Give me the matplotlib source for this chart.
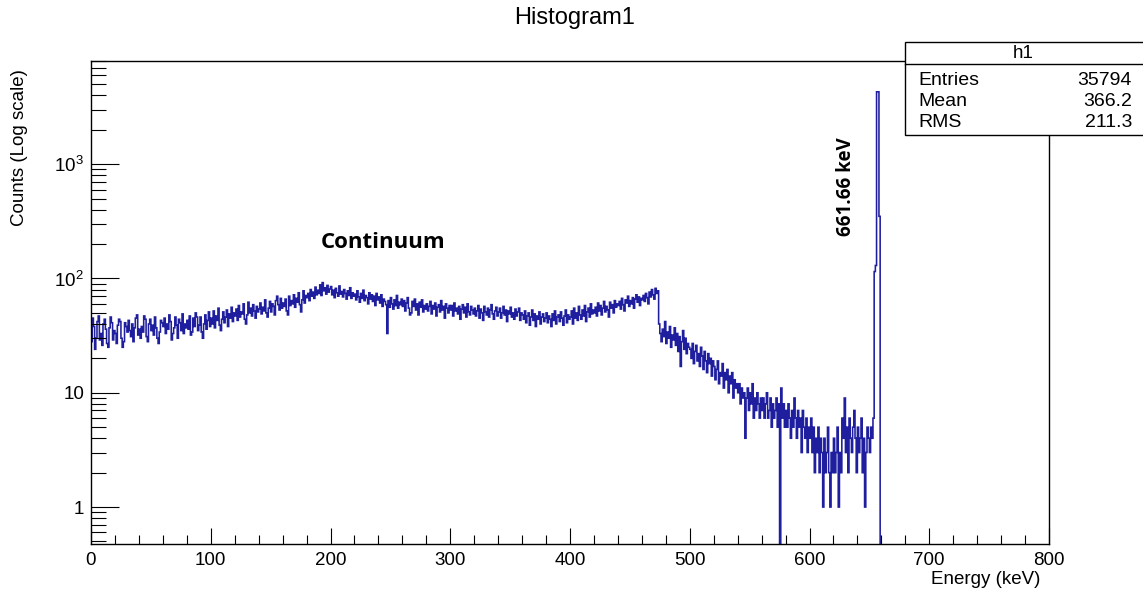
import numpy as np
import matplotlib
matplotlib.use("Agg")
import matplotlib.pyplot as plt
from matplotlib.ticker import MultipleLocator, LogLocator, FixedLocator, NullFormatter
from matplotlib.patches import Rectangle
from matplotlib.lines import Line2D

plt.rcParams['font.family'] = ['Liberation Sans', 'DejaVu Sans']
plt.rcParams['mathtext.fontset'] = 'custom'
plt.rcParams['mathtext.rm'] = 'Liberation Sans'
plt.rcParams['mathtext.it'] = 'Liberation Sans'

# histogram contents, 1 keV bins starting at 0 keV (one row = 20 keV)
bin_width = 1
counts_0_100 = [28, 45, 38, 24, 30, 42, 47, 29, 33, 26, 40, 44, 36, 27, 25, 37, 46, 41, 29, 35,
                33, 27, 39, 44, 42, 30, 25, 28, 41, 38, 34, 43, 35, 31, 40, 28, 37, 45, 48, 32,
                36, 30, 38, 34, 47, 44, 31, 28, 40, 44, 35, 39, 32, 46, 37, 30, 27, 34, 43, 41,
                38, 45, 33, 40, 36, 48, 42, 29, 33, 37, 46, 39, 30, 44, 41, 35, 49, 33, 40, 37,
                43, 36, 47, 32, 34, 45, 38, 50, 46, 35, 39, 46, 34, 30, 40, 48, 36, 43, 51, 38]
counts_100_200 = [45, 40, 52, 37, 47, 43, 55, 39, 35, 44, 51, 41, 46, 53, 38, 49, 45, 56, 42, 50,
                  47, 54, 43, 58, 46, 51, 49, 60, 44, 40, 48, 62, 50, 55, 47, 59, 52, 45, 57, 51,
                  54, 61, 49, 56, 52, 65, 50, 46, 55, 63, 51, 60, 57, 48, 64, 70, 59, 53, 67, 55,
                  61, 57, 66, 52, 48, 70, 58, 64, 60, 72, 56, 67, 62, 75, 59, 51, 65, 78, 61, 71,
                  68, 74, 64, 80, 70, 76, 67, 84, 72, 79, 74, 88, 71, 92, 78, 83, 73, 87, 76, 81]
counts_200_300 = [85, 72, 79, 68, 82, 75, 70, 86, 73, 77, 69, 80, 74, 66, 78, 71, 83, 67, 75, 70,
                  73, 65, 78, 69, 62, 74, 67, 79, 64, 71, 68, 60, 75, 66, 72, 63, 70, 58, 74, 65,
                  69, 61, 72, 57, 66, 63, 59, 33, 64, 56, 68, 60, 54, 65, 58, 71, 55, 62, 59, 66,
                  57, 64, 52, 61, 68, 55, 48, 50, 63, 57, 66, 53, 60, 48, 62, 56, 65, 51, 58, 54,
                  60, 52, 57, 63, 49, 58, 54, 61, 47, 56, 59, 51, 64, 53, 57, 45, 60, 55, 50, 58]
counts_300_400 = [53, 58, 47, 61, 52, 55, 49, 57, 44, 54, 59, 50, 56, 46, 60, 51, 48, 57, 53, 49,
                  55, 47, 52, 58, 45, 54, 50, 43, 57, 51, 48, 55, 46, 53, 59, 49, 44, 52, 56, 47,
                  51, 55, 45, 50, 57, 48, 53, 42, 52, 49, 56, 46, 50, 44, 54, 47, 51, 55, 43, 50,
                  48, 44, 52, 41, 47, 50, 39, 46, 53, 43, 49, 38, 47, 44, 51, 40, 46, 49, 42, 45,
                  50, 41, 47, 44, 38, 49, 43, 52, 40, 46, 48, 42, 51, 45, 39, 47, 53, 41, 48, 44]
counts_400_500 = [46, 52, 40, 55, 45, 50, 43, 57, 48, 44, 53, 47, 58, 42, 51, 55, 46, 60, 49, 53,
                  50, 56, 47, 61, 52, 58, 48, 55, 63, 51, 57, 53, 46, 62, 55, 59, 50, 64, 56, 60,
                  58, 63, 54, 67, 59, 52, 65, 61, 70, 57, 64, 60, 68, 55, 66, 72, 62, 69, 58, 67,
                  65, 71, 63, 74, 68, 60, 76, 69, 80, 72, 66, 82, 74, 78, 40, 33, 28, 36, 31, 42,
                  27, 34, 30, 38, 25, 32, 29, 37, 26, 33, 23, 31, 17, 28, 35, 24, 30, 22, 27, 25]
counts_500_600 = [24, 20, 27, 18, 23, 26, 19, 22, 17, 25, 21, 16, 23, 19, 15, 22, 18, 20, 14, 19,
                  17, 13, 16, 19, 12, 15, 14, 18, 11, 15, 13, 16, 10, 14, 12, 15, 9, 13, 11, 12,
                  10, 12, 8, 11, 9, 10, 4, 9, 11, 7, 10, 8, 12, 6, 9, 7, 10, 8, 6, 9,
                  7, 9, 6, 8, 10, 6, 7, 9, 5, 8, 6, 7, 9, 5, 8, 0, 11, 6, 8, 5,
                  7, 5, 8, 6, 4, 7, 5, 9, 6, 4, 7, 5, 6, 3, 7, 5, 4, 6, 3, 5]
counts_600_660 = [4, 6, 3, 5, 2, 4, 3, 5, 2, 4, 3, 1, 4, 2, 3, 5, 2, 1, 3, 2,
                  4, 2, 3, 5, 1, 3, 2, 6, 4, 9, 3, 5, 2, 6, 4, 3, 5, 7, 4, 2,
                  5, 3, 4, 6, 2, 4, 1, 3, 5, 4, 3, 5, 4, 6, 115, 130, 4300, 4300, 350, 0]

x_ticks = [0, 100, 200, 300, 400, 500, 600, 700, 800]
y_ticks = [1, 10, 100, 1000]
y_ticklabels = ['1', '10', '$10^{2}$', '$10^{3}$']

stats_names = ['Entries', 'Mean', 'RMS']
stats_values = ['35794', '366.2', '211.3']

counts = np.array(counts_0_100 + counts_100_200 + counts_200_300 + counts_300_400
                  + counts_400_500 + counts_500_600 + counts_600_660, dtype=float)
edges = np.arange(len(counts) + 1) * bin_width

W, H = 1143, 590
fig = plt.figure(figsize=(W / 100, H / 100), dpi=100)
fig.patch.set_facecolor('white')
left, right, top, bottom = 91, 1049, 61, 544
ax = fig.add_axes([left / W, 1 - bottom / H, (right - left) / W, (bottom - top) / H])

# zero bins fall below the visible range, like ROOT on a log axis
shown = np.where(counts > 0, counts, 1e-2)
ax.stairs(shown, edges, baseline=None, color='#1e1e9e', lw=1.15)

ax.set_yscale('log')
ax.set_xlim(0, 800)
ax.set_ylim(0.475, 8000)

ax.xaxis.set_major_locator(FixedLocator(x_ticks))
ax.xaxis.set_minor_locator(MultipleLocator(20))
ax.yaxis.set_major_locator(FixedLocator(y_ticks))
ax.set_yticklabels(y_ticklabels)
ax.yaxis.set_minor_locator(LogLocator(base=10, subs=range(2, 10), numticks=20))
ax.yaxis.set_minor_formatter(NullFormatter())

ax.tick_params(axis='x', which='major', direction='in', length=11.5, width=0.8,
               labelsize=13.5, pad=6, top=False)
ax.tick_params(axis='x', which='minor', direction='in', length=6.5, width=0.8, top=False)
ax.tick_params(axis='y', which='major', direction='in', length=20, width=0.8,
               labelsize=13.5, pad=5, right=False)
ax.tick_params(axis='y', which='minor', direction='in', length=11, width=0.8, right=False)
for s in ax.spines.values():
    s.set_linewidth(1.0)
    s.set_color('black')

fig.text(575 / W, 1 - 18 / H, 'Histogram1', ha='center', va='center', fontsize=17)
fig.text(20 / W, 1 - 148 / H, 'Counts (Log scale)', rotation=90,
         ha='center', va='center', fontsize=13.5)
fig.text(1040 / W, 1 - 580 / H, 'Energy (keV)', ha='right', va='center', fontsize=13.5)

fig.text(383 / W, 1 - 242 / H, 'Continuum', ha='center', va='center',
         fontsize=16, fontweight='bold', family=['Open Sans', 'DejaVu Sans'])
fig.text(846 / W, 1 - 187 / H, '661.66 keV', rotation=90, ha='center', va='center',
         fontsize=13.5, fontweight='bold', family=['Open Sans', 'DejaVu Sans'])

# statistics box
bx0, by0, by1, bsep = 905, 42, 135, 64
fig.patches.append(Rectangle((bx0 / W, 1 - by1 / H), (W + 5 - bx0) / W, (by1 - by0) / H,
                             transform=fig.transFigure, facecolor='white',
                             edgecolor='black', lw=1.0, zorder=5))
fig.lines.append(Line2D([bx0 / W, 1.0], [1 - bsep / H, 1 - bsep / H],
                        transform=fig.transFigure, color='black', lw=1.0, zorder=6))
fig.text(1023 / W, 1 - 54 / H, 'h1', ha='center', va='center', fontsize=13.5, zorder=7)
for i, (name, val) in enumerate(zip(stats_names, stats_values)):
    yy = 1 - (81 + 21 * i) / H
    fig.text(918 / W, yy, name, ha='left', va='center', fontsize=14, zorder=7)
    fig.text(1132 / W, yy, val, ha='right', va='center', fontsize=14, zorder=7)

fig.savefig('out.png', dpi=100)
